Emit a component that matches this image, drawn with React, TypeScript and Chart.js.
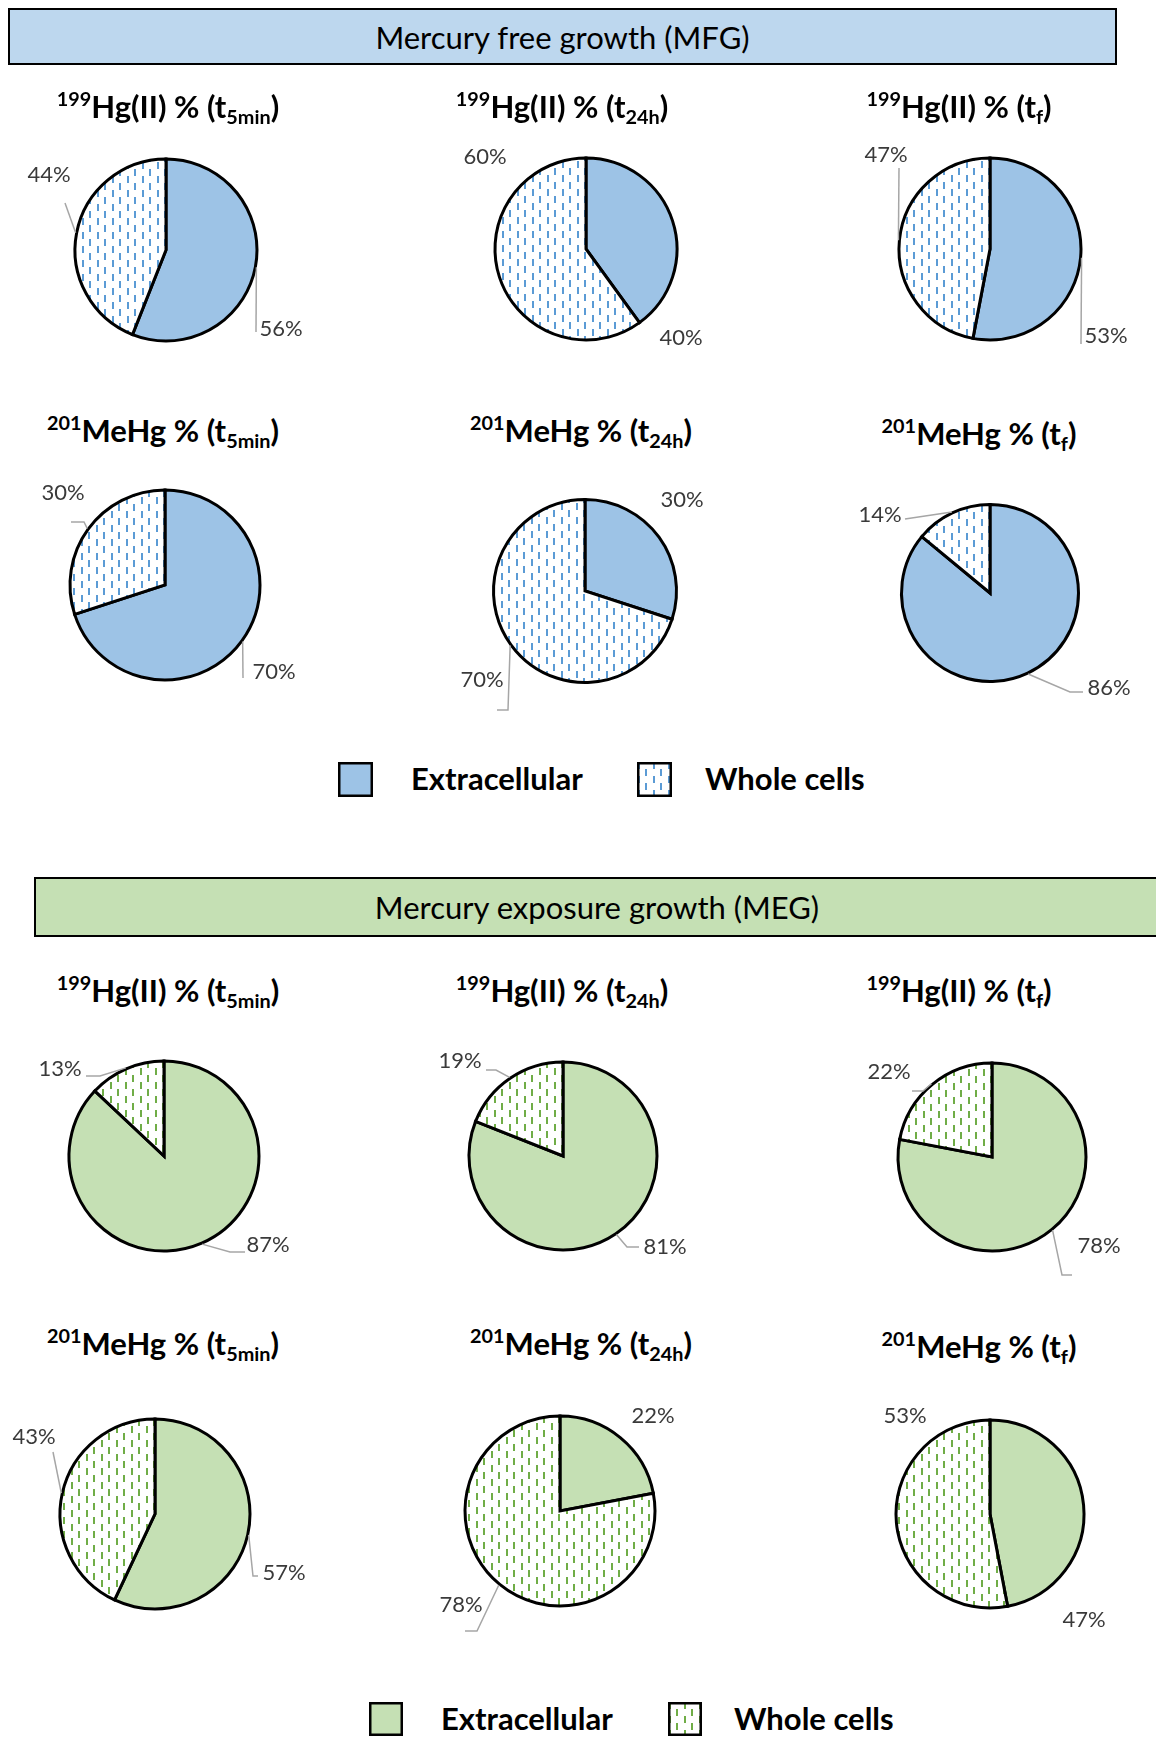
import React, { useEffect, useRef } from 'react';
import { Chart, registerables } from 'chart.js';
Chart.register(...registerables);

// ---------- data ----------
const sliceNames = ['Extracellular', 'Whole cells'];
const sectionTitles = ['Mercury free growth (MFG)', 'Mercury exposure growth (MEG)'];
const isotopes = ['199', '201'];
const speciesNames = ['Hg(II)', 'MeHg'];
const timeSubs = ['5min', '24h', 'f'];

const mfgHgExtra = [56, 40, 53];
const mfgHgWhole = [44, 60, 47];
const mfgMeHgExtra = [70, 30, 86];
const mfgMeHgWhole = [30, 70, 14];
const megHgExtra = [87, 81, 78];
const megHgWhole = [13, 19, 22];
const megMeHgExtra = [57, 22, 47];
const megMeHgWhole = [43, 78, 53];

// ---------- layout / style ----------
const W = 320;
const H = 260;
const sectionStyle = [
  { banner: '#BDD7EE', fill: '#9DC3E6', dash: '#5B9BD5' },
  { banner: '#C5E0B4', fill: '#C5E0B4', dash: '#70AD47' },
];
// [cx, cy, radius] for each pie, rows: MFG Hg, MFG MeHg, MEG Hg, MEG MeHg
const pieGeom = [
  [[166, 250, 91], [586, 249, 91], [990, 249, 91]],
  [[165, 585, 95], [585, 591, 91.5], [990, 593, 88.5]],
  [[164, 1156, 95], [563, 1156, 94], [992, 1157, 94]],
  [[155, 1514, 95], [560, 1511, 95], [990, 1514, 94]],
];
// label offsets from the pie center: d = [dx, dy], l = [leaderEndDx, leaderEndDy, tail] (null = no leader)
type Lbl = { d: [number, number]; l: [number, number, number] | null };
const labelLayout: Lbl[][][] = [
  [
    [{ d: [115, 79], l: [90, 82, 0] }, { d: [-117, -75], l: [-101, -47, 0] }],
    [{ d: [95, 89], l: null }, { d: [-101, -92], l: null }],
    [{ d: [116, 87], l: [91, 95, 0] }, { d: [-104, -94], l: [-91, -81, 0] }],
  ],
  [
    [{ d: [109, 87], l: [78, 93, 0] }, { d: [-102, -92], l: [-81, -63, -13] }],
    [{ d: [97, -91], l: null }, { d: [-103, 89], l: [-77, 119, -11] }],
    [{ d: [119, 95], l: [80, 99, 13] }, { d: [-110, -78], l: [-85, -74, 0] }],
  ],
  [
    [{ d: [104, 89], l: [66, 96, 15] }, { d: [-104, -87], l: [-64, -80, -14] }],
    [{ d: [102, 91], l: [64, 91, 12] }, { d: [-103, -95], l: [-67, -86, -10] }],
    [{ d: [107, 89], l: [70, 118, 10] }, { d: [-103, -85], l: [-69, -66, -11] }],
  ],
  [
    [{ d: [129, 59], l: [98, 62, 5] }, { d: [-121, -77], l: [-102, -62, 0] }],
    [{ d: [93, -95], l: null }, { d: [-99, 94], l: [-83, 120, -12] }],
    [{ d: [94, 106], l: null }, { d: [-85, -98], l: null }],
  ],
];
const titlePos = [
  [[168, 106], [562, 106], [959, 106]],
  [[163, 430], [581, 430], [979, 433]],
  [[168, 990], [562, 990], [959, 990]],
  [[163, 1343], [581, 1343], [979, 1346]],
];

function makeTile(color: string) {
  const c = document.createElement('canvas');
  c.width = 15;
  c.height = 14;
  const g = c.getContext('2d')!;
  g.fillStyle = '#ffffff';
  g.fillRect(0, 0, 15, 14);
  g.fillStyle = color;
  g.fillRect(1, 0, 2, 7);
  g.fillRect(8, 7, 2, 7);
  return c;
}

const labelPlugin = {
  id: 'pieLabels',
  afterDraw(chart: any, _args: any, opts: any) {
    const spec: Lbl[] = opts.spec;
    if (!spec) return;
    const ctx = chart.ctx;
    const meta = chart.getDatasetMeta(0);
    const values = chart.data.datasets[0].data;
    meta.data.forEach((arc: any, i: number) => {
      const p = arc.getProps(['x', 'y', 'startAngle', 'endAngle', 'outerRadius'], true);
      const mid = (p.startAngle + p.endAngle) / 2;
      const ex = p.x + (p.outerRadius + 1) * Math.cos(mid);
      const ey = p.y + (p.outerRadius + 1) * Math.sin(mid);
      const s = spec[i];
      ctx.save();
      if (s.l) {
        ctx.strokeStyle = '#A6A6A6';
        ctx.lineWidth = 1.5;
        ctx.beginPath();
        ctx.moveTo(ex, ey);
        ctx.lineTo(p.x + s.l[0], p.y + s.l[1]);
        if (s.l[2]) ctx.lineTo(p.x + s.l[0] + s.l[2], p.y + s.l[1]);
        ctx.stroke();
      }
      ctx.fillStyle = '#3a3a3a';
      ctx.font = '22px Lato';
      ctx.textAlign = 'center';
      ctx.textBaseline = 'middle';
      ctx.fillText(values[i] + '%', p.x + s.d[0], p.y + s.d[1]);
      ctx.restore();
    });
  },
};

function Pie({ values, geom, labels, fill, dash }: any) {
  const ref = useRef<HTMLCanvasElement>(null);
  useEffect(() => {
    const canvas = ref.current!;
    const ctx = canvas.getContext('2d')!;
    const pattern = ctx.createPattern(makeTile(dash), 'repeat');
    const chart = new Chart(canvas, {
      type: 'pie',
      data: {
        labels: sliceNames,
        datasets: [
          {
            data: values,
            backgroundColor: [fill, pattern as any],
            borderColor: '#000000',
            borderWidth: 3,
            borderJoinStyle: 'miter',
            hoverOffset: 0,
          } as any,
        ],
      },
      options: {
        responsive: false,
        animation: false,
        events: [],
        radius: geom[2],
        layout: { padding: 0 },
        plugins: {
          legend: { display: false },
          tooltip: { enabled: false },
          pieLabels: { spec: labels },
        } as any,
      } as any,
      plugins: [labelPlugin],
    });
    return () => chart.destroy();
  }, []);
  return (
    <canvas
      ref={ref}
      width={W}
      height={H}
      style={{ position: 'absolute', left: geom[0] - W / 2, top: geom[1] - H / 2, width: W, height: H }}
    />
  );
}

function Swatch({ x, y, size, fill, dash }: any) {
  const ref = useRef<HTMLCanvasElement>(null);
  useEffect(() => {
    const c = ref.current!;
    const g = c.getContext('2d')!;
    g.clearRect(0, 0, size, size);
    g.fillStyle = dash ? (g.createPattern(makeTile(dash), 'repeat') as any) : fill;
    g.fillRect(1, 1, size - 2, size - 2);
    g.strokeStyle = '#000';
    g.lineWidth = 2.5;
    g.strokeRect(1.25, 1.25, size - 2.5, size - 2.5);
  }, []);
  return <canvas ref={ref} width={size} height={size} style={{ position: 'absolute', left: x, top: y }} />;
}

function Title({ x, y, iso, sp, sub }: any) {
  return (
    <div
      style={{
        position: 'absolute',
        left: x,
        top: y,
        transform: 'translate(-50%, -50%)',
        whiteSpace: 'nowrap',
        font: 'bold 31px Lato',
        lineHeight: 1,
        color: '#000',
      }}
    >
      <span style={{ fontSize: '0.64em', position: 'relative', top: '-0.6em' }}>{iso}</span>
      {sp} % (t
      <span style={{ fontSize: '0.64em', position: 'relative', top: '0.32em' }}>{sub}</span>)
    </div>
  );
}

function Banner({ left, top, width, height, color, text }: any) {
  return (
    <div
      style={{
        position: 'absolute',
        left,
        top,
        width,
        height,
        boxSizing: 'border-box',
        border: '2px solid #000',
        background: color,
        display: 'flex',
        alignItems: 'center',
        justifyContent: 'center',
        font: '31px Lato',
        color: '#000',
      }}
    >
      {text}
    </div>
  );
}

function LegendText({ x, y, text }: any) {
  return (
    <div
      style={{
        position: 'absolute',
        left: x,
        top: y,
        transform: 'translateY(-50%)',
        font: 'bold 31px Lato',
        lineHeight: 1,
        whiteSpace: 'nowrap',
        color: '#000',
      }}
    >
      {text}
    </div>
  );
}

export default function App() {
  const rows = [
    { sec: 0, iso: 0, ex: mfgHgExtra, wh: mfgHgWhole },
    { sec: 0, iso: 1, ex: mfgMeHgExtra, wh: mfgMeHgWhole },
    { sec: 1, iso: 0, ex: megHgExtra, wh: megHgWhole },
    { sec: 1, iso: 1, ex: megMeHgExtra, wh: megMeHgWhole },
  ];
  return (
    <div
      style={{
        position: 'absolute',
        left: 0,
        top: 0,
        width: 1156,
        height: 1738,
        background: '#fff',
        overflow: 'hidden',
        fontFamily: 'Lato',
      }}
    >
      <Banner left={8} top={8} width={1109} height={57} color={sectionStyle[0].banner} text={sectionTitles[0]} />
      <Banner left={34} top={877} width={1126} height={60} color={sectionStyle[1].banner} text={sectionTitles[1]} />
      {rows.map((r, ri) =>
        timeSubs.map((t, ci) => {
          const st = sectionStyle[r.sec];
          return (
            <React.Fragment key={ri + '-' + ci}>
              <Pie
                values={[r.ex[ci], r.wh[ci]]}
                geom={pieGeom[ri][ci]}
                labels={labelLayout[ri][ci]}
                fill={st.fill}
                dash={st.dash}
              />
              <Title x={titlePos[ri][ci][0]} y={titlePos[ri][ci][1]} iso={isotopes[r.iso]} sp={speciesNames[r.iso]} sub={t} />
            </React.Fragment>
          );
        })
      )}
      <Swatch x={338} y={762} size={35} fill={sectionStyle[0].fill} />
      <LegendText x={411} y={778} text={sliceNames[0]} />
      <Swatch x={637} y={762} size={35} dash={sectionStyle[0].dash} />
      <LegendText x={705} y={778} text={sliceNames[1]} />
      <Swatch x={369} y={1702} size={34} fill={sectionStyle[1].fill} />
      <LegendText x={441} y={1718} text={sliceNames[0]} />
      <Swatch x={668} y={1702} size={34} dash={sectionStyle[1].dash} />
      <LegendText x={734} y={1718} text={sliceNames[1]} />
    </div>
  );
}
